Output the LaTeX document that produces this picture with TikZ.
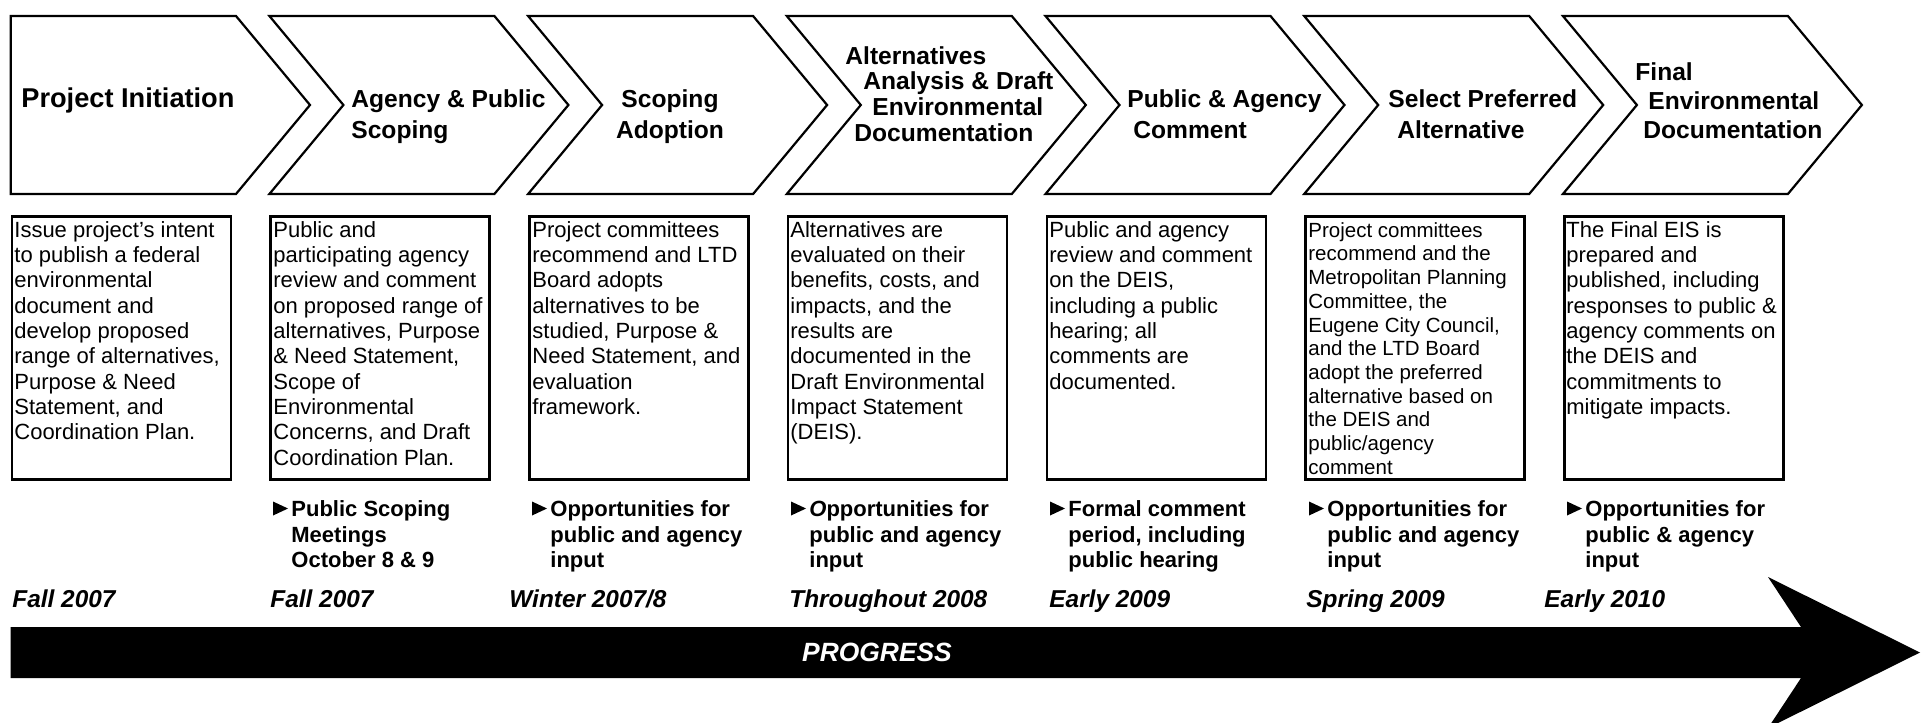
\documentclass[tikz,border=0pt]{standalone}
\usepackage{fontspec}
\setmainfont{Liberation Sans}
\usetikzlibrary{calc}
\begin{document}
\begin{tikzpicture}[x=0.5pt,y=-0.5pt,
  chev/.style={draw=black,line width=1.1pt,fill=white,line join=miter},
  box/.style={draw=black,line width=1.3pt,minimum width=109.5pt,minimum height=131.5pt,anchor=north west,inner sep=0pt},
  title/.style={anchor=north west,inner sep=0pt,align=left,font=\bfseries\fontsize{12.3}{15.5}\selectfont},
  boxtext/.style={anchor=north west,inner sep=0pt,align=left,font=\fontsize{11}{12.65}\selectfont},
  bullet/.style={anchor=north west,inner sep=0pt,align=left,font=\bfseries\fontsize{11}{12.85}\selectfont},
  datetext/.style={anchor=north west,inner sep=0pt,font=\bfseries\itshape\fontsize{12.2}{14}\selectfont},
  tri/.style={fill=black}]
\useasboundingbox (0,0) rectangle (1928,723);
% chevrons
\draw[chev] (10.7,16) -- (236,16) -- (310,105) -- (236,194) -- (10.7,194) -- cycle;
\foreach \L in {269.4,528.1,786.8,1045.5,1304.2,1562.9}{
  \draw[chev] (\L,16) -- ++(225,0) -- ++(74,89) -- ++(-74,89) -- ++(-225,0) -- ++(74,-89) -- cycle;
}
% titles
\node[title,font=\bfseries\fontsize{13.6}{16}\selectfont] (h1) at (21,87) {Project Initiation};
\node[title] (h2) at (351,89) {Agency \& Public\\Scoping};
\node[title,anchor=north,align=center] (h3) at (670,89) {Scoping\\Adoption};
\node[title,font=\bfseries\fontsize{12.3}{12.85}\selectfont] (h4) at (845,46) {Alternatives\\\hspace*{9pt}Analysis \& Draft\\\hspace*{13.5pt}Environmental\\\hspace*{4.5pt}Documentation};
\node[title] (h5) at (1127,89) {Public \& Agency\\\hspace*{3pt}Comment};
\node[title] (h6) at (1388,89) {Select Preferred\\\hspace*{4.5pt}Alternative};
\node[title,font=\bfseries\fontsize{12.3}{14.5}\selectfont] (h7) at (1635,62) {Final\\\hspace*{6.5pt}Environmental\\\hspace*{4pt}Documentation};
% boxes
\node[box] (b1) at (10.7,215) {};
\node[box] (b2) at (269.4,215) {};
\node[box] (b3) at (528.1,215) {};
\node[box] (b4) at (786.8,215) {};
\node[box] (b5) at (1045.5,215) {};
\node[box] (b6) at (1304.2,215) {};
\node[box] (b7) at (1562.9,215) {};
% box texts
\node[boxtext] (t1) at (14,221) {Issue project’s intent\\to publish a federal\\environmental\\document and\\develop proposed\\range of alternatives,\\Purpose \& Need\\Statement, and\\Coordination Plan.};
\node[boxtext] (t2) at (273,221) {Public and\\participating agency\\review and comment\\on proposed range of\\alternatives, Purpose\\\& Need Statement,\\Scope of\\Environmental\\Concerns, and Draft\\Coordination Plan.};
\node[boxtext] (t3) at (532,221) {Project committees\\recommend and LTD\\Board adopts\\alternatives to be\\studied, Purpose \&\\Need Statement, and\\evaluation\\framework.};
\node[boxtext] (t4) at (790,221) {Alternatives are\\evaluated on their\\benefits, costs, and\\impacts, and the\\results are\\documented in the\\Draft Environmental\\Impact Statement\\(DEIS).};
\node[boxtext] (t5) at (1049,221) {Public and agency\\review and comment\\on the DEIS,\\including a public\\hearing; all\\comments are\\documented.};
\node[boxtext,font=\fontsize{10.25}{11.85}\selectfont] (t6) at (1308,222) {Project committees\\recommend and the\\Metropolitan Planning\\Committee, the\\Eugene City Council,\\and the LTD Board\\adopt the preferred\\alternative based on\\the DEIS and\\public/agency\\comment};
\node[boxtext] (t7) at (1566,221) {The Final EIS is\\prepared and\\published, including\\responses to public \&\\agency comments on\\the DEIS and\\commitments to\\mitigate impacts.};
% bullets
\node[bullet] (p2) at (291,500) {Public Scoping\\Meetings\\October 8 \& 9};
\node[bullet] (p3) at (550,500) {Opportunities for\\public and agency\\input};
\node[bullet] (p4) at (809,500) {\textit{O}pportunities for\\public and agency\\input};
\node[bullet] (p5) at (1068,500) {Formal comment\\period, including\\public hearing};
\node[bullet] (p6) at (1327,500) {Opportunities for\\public and agency\\input};
\node[bullet] (p7) at (1585,500) {Opportunities for\\public \& agency\\input};
\foreach \p in {p2,p3,p4,p5,p6,p7}{
  \fill[tri] ($(\p.north west)+(-18,1.5)$) -- ++(15,7) -- ++(-15,7) -- cycle;
}
% dates
\node[datetext] (d1) at (12,589) {Fall 2007};
\node[datetext] (d2) at (270,589) {Fall 2007};
\node[datetext] (d3) at (509,589) {Winter 2007/8};
\node[datetext] (d4) at (789,589) {Throughout 2008};
\node[datetext] (d5) at (1049,589) {Early 2009};
\node[datetext] (d6) at (1306,589) {Spring 2009};
\node[datetext] (d7) at (1544,589) {Early 2010};
% progress arrow
\fill[black] (10.5,627) -- (1801,627) -- (1768,577) -- (1920,652.5) -- (1768,728) -- (1801,678) -- (10.5,678) -- cycle;
\node[text=white,font=\bfseries\itshape\fontsize{13.2}{16}\selectfont] (prog) at (877,652.5) {PROGRESS};
\end{tikzpicture}
\end{document}
